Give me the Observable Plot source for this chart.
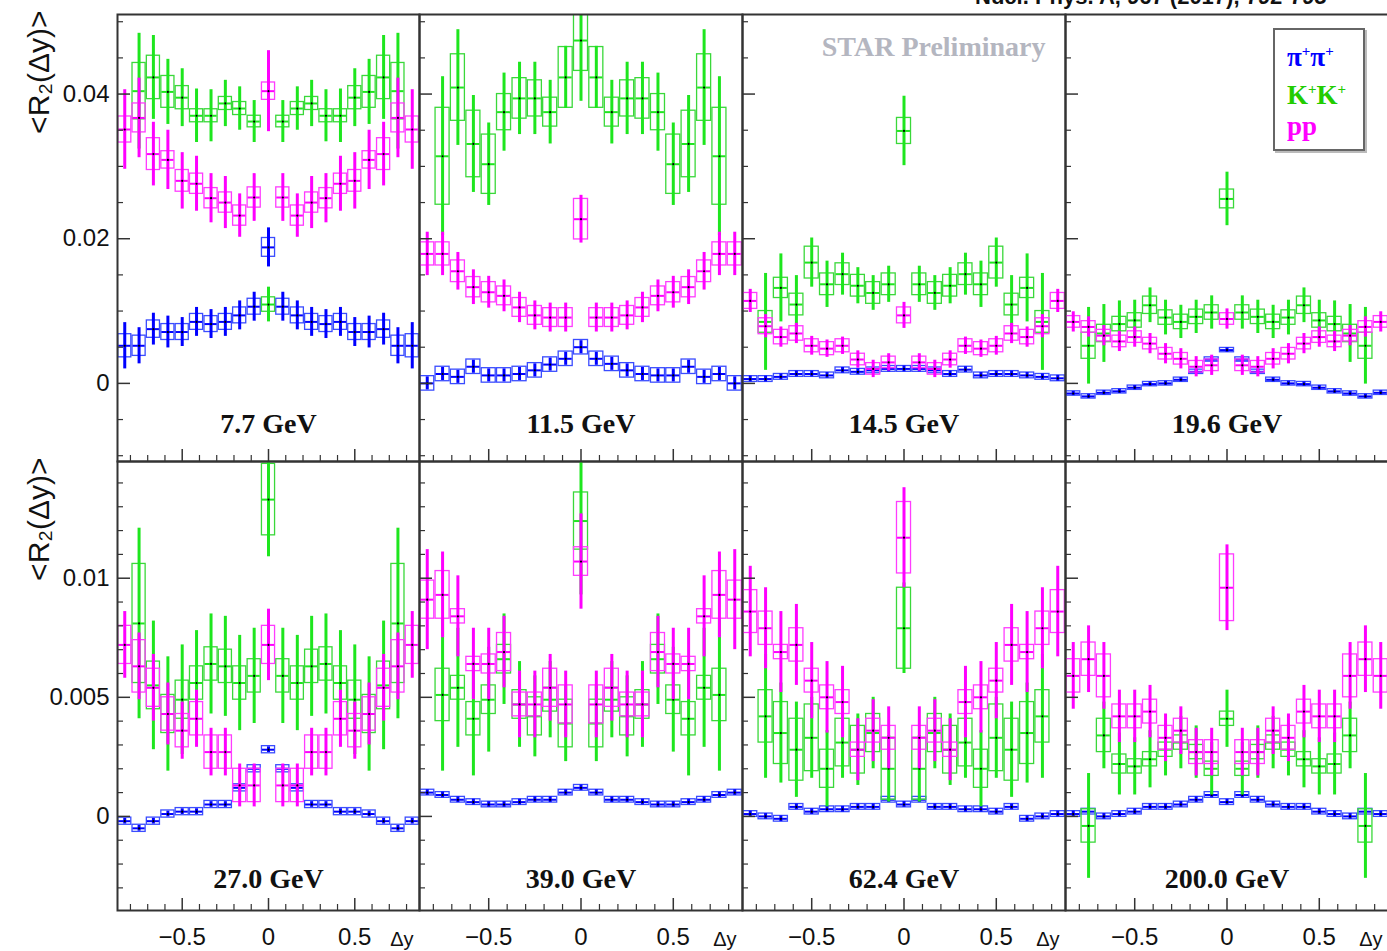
<!DOCTYPE html>
<html><head><meta charset="utf-8">
<script src="https://cdn.jsdelivr.net/npm/d3@7"></script>
<script src="https://cdn.jsdelivr.net/npm/@observablehq/plot@0.6"></script>
<style>
body{margin:0;background:#fff;overflow:hidden}
#wrap{position:relative;width:1387px;height:951px;overflow:hidden;background:#fff}
#wrap svg{position:absolute}
#cite{position:absolute;left:975px;top:-14px;font:bold 22px "Liberation Sans",Arial,sans-serif;line-height:22px;white-space:nowrap;color:#111}
#legend{position:absolute;left:1273px;top:28px;width:88px;height:119px;border:2px solid #666;background:#fff;box-shadow:2px 2px 0 #bbb;font:bold 27px "Liberation Serif","Times New Roman",serif}
#legend div{position:absolute;left:12px;line-height:27px;white-space:nowrap}
#legend sup{font-size:15px;vertical-align:10px}
</style></head><body><div id="wrap">
<div id="cite">Nucl. Phys. A, 967 (2017), 792-795</div>
</div>
<script>
// Δy bin centres (21 bins over [-0.875, 0.875])
const dY = [-0.833,-0.75,-0.667,-0.583,-0.5,-0.417,-0.333,-0.25,-0.167,-0.083,0,0.083,0.167,0.25,0.333,0.417,0.5,0.583,0.667,0.75,0.833];

// ---- 7.7 GeV ----
const pi77  = [0.0052,0.0052,0.0075,0.0071,0.0071,0.0085,0.0082,0.0085,0.0094,0.0106,0.0188,0.0106,0.0094,0.0085,0.0082,0.0085,0.0071,0.0071,0.0075,0.0052,0.0052];
const pi77s = [0.0032,0.0025,0.0022,0.0022,0.0020,0.0020,0.0020,0.0020,0.0020,0.0020,0.0027,0.0020,0.0020,0.0020,0.0020,0.0020,0.0020,0.0022,0.0022,0.0025,0.0032];
const pi77e = [0.0016,0.0014,0.0012,0.0011,0.0011,0.0011,0.0011,0.0011,0.0011,0.0011,0.0013,0.0011,0.0011,0.0011,0.0011,0.0011,0.0011,0.0011,0.0012,0.0014,0.0016];
const k77   = [null,0.0404,0.0423,0.0403,0.0395,0.0370,0.0370,0.0387,0.0380,0.0362,0.0109,0.0362,0.0380,0.0387,0.0370,0.0370,0.0395,0.0403,0.0423,0.0404,null];
const k77s  = [null,0.0080,0.0058,0.0045,0.0040,0.0037,0.0036,0.0032,0.0030,0.0029,0.0024,0.0029,0.0030,0.0032,0.0036,0.0037,0.0040,0.0045,0.0058,0.0080,null];
const k77e  = [null,0.0039,0.0030,0.0022,0.0016,0.0009,0.0009,0.0009,0.0009,0.0008,0.0010,0.0008,0.0009,0.0009,0.0009,0.0009,0.0016,0.0022,0.0030,0.0039,null];
const p77   = [0.0351,0.0367,0.0317,0.0309,0.0280,0.0276,0.0256,0.0250,0.0232,0.0257,0.0404,0.0257,0.0232,0.0250,0.0256,0.0276,0.0280,0.0309,0.0317,0.0367,0.0351];
const p77s  = [0.0055,0.0055,0.0044,0.0041,0.0039,0.0038,0.0034,0.0036,0.0030,0.0033,0.0056,0.0033,0.0030,0.0036,0.0034,0.0038,0.0039,0.0041,0.0044,0.0055,0.0055];
const p77e  = [0.0018,0.0020,0.0022,0.0012,0.0015,0.0014,0.0014,0.0014,0.0014,0.0014,0.0012,0.0014,0.0014,0.0014,0.0014,0.0014,0.0015,0.0012,0.0022,0.0020,0.0018];

// ---- 11.5 GeV ----
const pi115  = [0.0000,0.0013,0.0009,0.0023,0.0011,0.0011,0.0013,0.0018,0.0026,0.0034,0.0050,0.0034,0.0027,0.0018,0.0013,0.0011,0.0011,0.0023,0.0009,0.0013,0.0000];
const pi115s = 0.0009, pi115e = 0.0010;
const k115   = [null,0.0314,0.0409,0.0331,0.0303,0.0375,0.0394,0.0394,0.0375,0.0423,0.0474,0.0423,0.0375,0.0394,0.0394,0.0375,0.0303,0.0331,0.0409,0.0314,null];
const k115s  = [null,0.0110,0.0080,0.0067,0.0057,0.0054,0.0050,0.0050,0.0044,0.0043,0.0084,0.0043,0.0044,0.0050,0.0050,0.0054,0.0057,0.0067,0.0080,0.0110,null];
const k115e  = [null,0.0067,0.0046,0.0046,0.0041,0.0025,0.0028,0.0025,0.0020,0.0042,0.0042,0.0042,0.0020,0.0025,0.0028,0.0025,0.0041,0.0046,0.0046,0.0067,null];
const p115   = [0.0179,0.0179,0.0155,0.0133,0.0126,0.0121,0.0105,0.0094,0.0091,0.0091,0.0227,0.0091,0.0091,0.0094,0.0105,0.0121,0.0126,0.0133,0.0155,0.0179,0.0179];
const p115s  = [0.0030,0.0030,0.0026,0.0024,0.0022,0.0022,0.0021,0.0020,0.0020,0.0020,0.0033,0.0020,0.0020,0.0020,0.0021,0.0022,0.0022,0.0024,0.0026,0.0030,0.0030];
const p115e  = [0.0016,0.0016,0.0015,0.0014,0.0014,0.0013,0.0013,0.0013,0.0013,0.0013,0.0028,0.0013,0.0013,0.0013,0.0013,0.0013,0.0014,0.0014,0.0015,0.0016,0.0016];

// ---- 14.5 GeV ----
const pi145  = [0.0006,0.0006,0.0009,0.0013,0.0013,0.0011,0.0018,0.0016,0.0018,0.0020,0.0020,0.0020,0.0018,0.0013,0.0019,0.0011,0.0013,0.0013,0.0011,0.0009,0.0007];
const pi145s = 0.0004, pi145e = 0.0004;
const k145   = [null,0.0085,0.0132,0.0109,0.0167,0.0137,0.0151,0.0135,0.0125,0.0137,0.0349,0.0137,0.0125,0.0135,0.0151,0.0137,0.0167,0.0109,0.0132,0.0085,null];
const k145s  = [null,0.0067,0.0047,0.0040,0.0034,0.0032,0.0029,0.0025,0.0024,0.0025,0.0048,0.0025,0.0024,0.0025,0.0029,0.0032,0.0034,0.0040,0.0047,0.0067,null];
const k145e  = [null,0.0015,0.0014,0.0015,0.0022,0.0015,0.0015,0.0015,0.0015,0.0015,0.0018,0.0015,0.0015,0.0015,0.0015,0.0015,0.0022,0.0015,0.0014,0.0015,null];
const p145   = [0.0114,0.0079,0.0064,0.0069,0.0052,0.0048,0.0052,0.0033,0.0020,0.0029,0.0094,0.0029,0.0020,0.0033,0.0052,0.0048,0.0052,0.0069,0.0064,0.0079,0.0114];
const p145s  = [0.0016,0.0016,0.0014,0.0014,0.0013,0.0012,0.0012,0.0012,0.0012,0.0012,0.0018,0.0012,0.0012,0.0012,0.0012,0.0012,0.0013,0.0014,0.0014,0.0016,0.0016];
const p145e  = [0.0011,0.0011,0.0010,0.0010,0.0009,0.0009,0.0009,0.0008,0.0008,0.0008,0.0011,0.0008,0.0008,0.0008,0.0009,0.0009,0.0009,0.0010,0.0010,0.0011,0.0011];

// ---- 19.6 GeV ----
const pi196  = [-0.0014,-0.0018,-0.0013,-0.0011,-0.0006,-0.0001,0.0000,0.0005,0.0016,0.0033,0.0046,0.0033,0.0016,0.0005,0.0000,-0.0001,-0.0006,-0.0011,-0.0014,-0.0018,-0.0013];
const pi196s = 0.0003, pi196e = 0.0003;
const k196   = [null,0.0052,0.0069,0.0082,0.0087,0.0108,0.0091,0.0085,0.0092,0.0098,0.0255,0.0098,0.0092,0.0085,0.0091,0.0108,0.0087,0.0082,0.0069,0.0052,null];
const k196s  = [null,0.0053,0.0040,0.0032,0.0028,0.0024,0.0024,0.0023,0.0023,0.0023,0.0037,0.0023,0.0023,0.0023,0.0024,0.0024,0.0028,0.0032,0.0040,0.0053,null];
const k196e  = [null,0.0018,0.0012,0.0010,0.0010,0.0012,0.0010,0.0010,0.0010,0.0010,0.0013,0.0010,0.0010,0.0010,0.0010,0.0012,0.0010,0.0010,0.0012,0.0018,null];
const p196   = [0.0085,0.0078,0.0066,0.0058,0.0064,0.0055,0.0041,0.0034,0.0023,0.0025,0.0089,0.0025,0.0023,0.0034,0.0041,0.0055,0.0064,0.0058,0.0066,0.0078,0.0085];
const p196s  = 0.0014, p196e = 0.0008;

// ---- 27.0 GeV ----
const pi27  = [-0.0002,-0.0005,-0.0002,0.0001,0.0002,0.0002,0.0005,0.0005,0.0012,0.0020,0.0028,0.0020,0.0012,0.0005,0.0005,0.0002,0.0002,0.0001,-0.0002,-0.0005,-0.0002];
const pi27s = 0.00012, pi27e = 0.00015;
const k27   = [null,0.0081,0.0055,0.0043,0.0049,0.0056,0.0064,0.0063,0.0056,0.0059,0.0133,0.0059,0.0056,0.0063,0.0064,0.0056,0.0049,0.0043,0.0055,0.0081,null];
const k27s  = [null,0.0040,0.0027,0.0024,0.0023,0.0022,0.0021,0.0021,0.0020,0.0020,0.0024,0.0020,0.0020,0.0021,0.0021,0.0022,0.0023,0.0024,0.0027,0.0040,null];
const k27e  = [null,0.0025,0.0010,0.0008,0.0008,0.0007,0.0007,0.0007,0.0007,0.0007,0.0015,0.0007,0.0007,0.0007,0.0007,0.0007,0.0008,0.0008,0.0010,0.0025,null];
const p27   = [0.0072,0.0063,0.0054,0.0043,0.0036,0.0041,0.0027,0.0027,0.0013,0.0013,0.0072,0.0013,0.0013,0.0027,0.0027,0.0041,0.0036,0.0043,0.0054,0.0063,0.0072];
const p27s  = [0.0014,0.0014,0.0014,0.0013,0.0012,0.0012,0.0010,0.0010,0.0009,0.0009,0.0015,0.0009,0.0009,0.0010,0.0010,0.0012,0.0012,0.0013,0.0014,0.0014,0.0014];
const p27e  = [0.0008,0.0011,0.0008,0.0007,0.0007,0.0007,0.0007,0.0007,0.0007,0.0007,0.0008,0.0007,0.0007,0.0007,0.0007,0.0007,0.0007,0.0007,0.0008,0.0011,0.0008];

// ---- 39.0 GeV ----
const pi39  = [0.0010,0.0009,0.0007,0.0006,0.0005,0.0005,0.0006,0.0007,0.0007,0.0010,0.0012,0.0010,0.0007,0.0007,0.0006,0.0005,0.0005,0.0006,0.0007,0.0009,0.0010];
const pi39s = 0.00012, pi39e = 0.00012;
const k39   = [null,0.0051,0.0054,0.0041,0.0049,0.0066,0.0047,0.0042,0.0049,0.0039,0.0124,0.0039,0.0049,0.0042,0.0047,0.0066,0.0049,0.0041,0.0054,0.0051,null];
const k39s  = [null,0.0032,0.0025,0.0024,0.0022,0.0019,0.0018,0.0017,0.0016,0.0016,0.0031,0.0016,0.0016,0.0017,0.0018,0.0019,0.0022,0.0024,0.0025,0.0032,null];
const k39e  = [null,0.0011,0.0005,0.0007,0.0006,0.0006,0.0006,0.0008,0.0005,0.0010,0.0012,0.0010,0.0005,0.0008,0.0006,0.0006,0.0006,0.0007,0.0005,0.0011,null];
const p39   = [0.0091,0.0093,0.0084,0.0064,0.0064,0.0069,0.0047,0.0047,0.0054,0.0047,0.0107,0.0047,0.0054,0.0047,0.0047,0.0069,0.0064,0.0064,0.0084,0.0093,0.0091];
const p39s  = [0.0021,0.0018,0.0017,0.0015,0.0015,0.0015,0.0014,0.0014,0.0014,0.0014,0.0020,0.0014,0.0014,0.0014,0.0014,0.0015,0.0015,0.0015,0.0017,0.0018,0.0021];
const p39e  = [0.0008,0.0010,0.0003,0.0003,0.0004,0.0008,0.0005,0.0005,0.0008,0.0008,0.0006,0.0008,0.0008,0.0005,0.0005,0.0008,0.0004,0.0003,0.0003,0.0010,0.0008];

// ---- 62.4 GeV ----
const pi624  = [0.0001,0.0000,-0.0001,0.0004,0.0002,0.0003,0.0003,0.0004,0.0004,0.0007,0.0005,0.0007,0.0004,0.0004,0.0003,0.0003,0.0002,0.0004,-0.0001,0.0000,0.0001];
const pi624s = 0.00012, pi624e = 0.00012;
const k624   = [null,0.0042,0.0035,0.0028,0.0033,0.0020,0.0031,0.0028,0.0035,0.0020,0.0079,0.0020,0.0035,0.0028,0.0031,0.0020,0.0033,0.0028,0.0035,0.0042,null];
const k624s  = [null,0.0026,0.0021,0.0020,0.0017,0.0016,0.0015,0.0015,0.0015,0.0014,0.0019,0.0014,0.0015,0.0015,0.0015,0.0016,0.0017,0.0020,0.0021,0.0026,null];
const k624e  = [null,0.0011,0.0013,0.0013,0.0014,0.0008,0.0010,0.0010,0.0008,0.0013,0.0017,0.0013,0.0008,0.0010,0.0010,0.0008,0.0014,0.0013,0.0013,0.0011,null];
const p624   = [0.0086,0.0079,0.0069,0.0072,0.0057,0.0050,0.0048,0.0028,0.0036,0.0033,0.0117,0.0033,0.0036,0.0028,0.0048,0.0050,0.0057,0.0072,0.0069,0.0079,0.0086];
const p624s  = [0.0019,0.0017,0.0017,0.0017,0.0016,0.0015,0.0015,0.0013,0.0013,0.0013,0.0021,0.0013,0.0013,0.0013,0.0015,0.0015,0.0016,0.0017,0.0017,0.0017,0.0019];
const p624e  = [0.0009,0.0007,0.0003,0.0007,0.0005,0.0005,0.0005,0.0003,0.0005,0.0005,0.0015,0.0005,0.0005,0.0003,0.0005,0.0005,0.0005,0.0007,0.0003,0.0007,0.0009];

// ---- 200.0 GeV ----
const pi200  = [0.0001,0.0002,0.0000,0.0001,0.0002,0.0004,0.0004,0.0005,0.0007,0.0009,0.0006,0.0009,0.0007,0.0005,0.0004,0.0004,0.0002,0.0001,0.0000,0.0002,0.0001];
const pi200s = 0.00012, pi200e = 0.00012;
const k200   = [null,-0.0004,0.0034,0.0022,0.0021,0.0024,0.0028,0.0031,0.0027,0.0020,0.0041,0.0020,0.0027,0.0031,0.0028,0.0024,0.0021,0.0022,0.0034,-0.0004,null];
const k200s  = [null,0.0022,0.0014,0.0013,0.0012,0.0012,0.0011,0.0011,0.0011,0.0011,0.0012,0.0011,0.0011,0.0011,0.0011,0.0012,0.0012,0.0013,0.0014,0.0022,null];
const k200e  = [null,0.0007,0.0007,0.0004,0.0003,0.0003,0.0003,0.0003,0.0003,0.0003,0.0003,0.0003,0.0003,0.0003,0.0003,0.0003,0.0003,0.0004,0.0007,0.0007,null];
const p200   = [0.0059,0.0066,0.0059,0.0042,0.0042,0.0044,0.0033,0.0036,0.0027,0.0027,0.0096,0.0027,0.0027,0.0036,0.0033,0.0044,0.0042,0.0042,0.0059,0.0066,0.0059];
const p200s  = [0.0014,0.0014,0.0014,0.0011,0.0011,0.0011,0.0010,0.0010,0.0010,0.0010,0.0018,0.0010,0.0010,0.0010,0.0010,0.0011,0.0011,0.0011,0.0014,0.0014,0.0014];
const p200e  = [0.0007,0.0007,0.0009,0.0005,0.0005,0.0005,0.0005,0.0005,0.0005,0.0005,0.0014,0.0005,0.0005,0.0005,0.0005,0.0005,0.0005,0.0005,0.0009,0.0007,0.0007];

// tick values / labels
const xMajor = [-0.5, 0, 0.5];
const xMinor = [-0.8,-0.7,-0.6,-0.4,-0.3,-0.2,-0.1,0.1,0.2,0.3,0.4,0.6,0.7,0.8];
const yMajorTop = [0, 0.02, 0.04];
const yMinorTop = [-0.01,-0.005,0.005,0.01,0.015,0.025,0.03,0.035,0.045,0.05];
const yMajorBot = [0, 0.005, 0.01];
const yMinorBot = [-0.003,-0.002,-0.001,0.001,0.002,0.003,0.004,0.006,0.007,0.008,0.009,0.011,0.012,0.013,0.014];
const energies = ["7.7 GeV","11.5 GeV","14.5 GeV","19.6 GeV","27.0 GeV","39.0 GeV","62.4 GeV","200.0 GeV"];
const yTitle = "<R\u2082(\u0394y)>";

const colPi = "#0000ff", colPiBox = "#3a4cff";
const colK = "#1ee61e", colKBox = "#3ad83a";
const colP = "#ff00ff", colPBox = "#ff3cff";

function rows(vals, stat, sys) {
  return dY.map((x, i) => ({
    x, v: vals[i],
    s: typeof stat === "number" ? stat : stat[i],
    e: typeof sys === "number" ? sys : sys[i]
  })).filter(d => d.v != null);
}

const panels = [
  {row:0,col:0,label:energies[0],pi:rows(pi77,pi77s,pi77e),k:rows(k77,k77s,k77e),p:rows(p77,p77s,p77e)},
  {row:0,col:1,label:energies[1],pi:rows(pi115,pi115s,pi115e),k:rows(k115,k115s,k115e),p:rows(p115,p115s,p115e)},
  {row:0,col:2,label:energies[2],pi:rows(pi145,pi145s,pi145e),k:rows(k145,k145s,k145e),p:rows(p145,p145s,p145e)},
  {row:0,col:3,label:energies[3],pi:rows(pi196,pi196s,pi196e),k:rows(k196,k196s,k196e),p:rows(p196,p196s,p196e)},
  {row:1,col:0,label:energies[4],pi:rows(pi27,pi27s,pi27e),k:rows(k27,k27s,k27e),p:rows(p27,p27s,p27e)},
  {row:1,col:1,label:energies[5],pi:rows(pi39,pi39s,pi39e),k:rows(k39,k39s,k39e),p:rows(p39,p39s,p39e)},
  {row:1,col:2,label:energies[6],pi:rows(pi624,pi624s,pi624e),k:rows(k624,k624s,k624e),p:rows(p624,p624s,p624e)},
  {row:1,col:3,label:energies[7],pi:rows(pi200,pi200s,pi200e),k:rows(k200,k200s,k200e),p:rows(p200,p200s,p200e)}
];

const cols = [[117,419],[419,742],[742,1065],[1065,1388]];
const rowsPx = [[14,461],[461,910]];
const yDom = [[-0.0108,0.051],[-0.00395,0.0149]];

function seriesMarks(data, color, boxColor) {
  return [
    Plot.rect(data, {x1: d => d.x - 0.038, x2: d => d.x + 0.038, y1: d => d.v - d.e, y2: d => d.v + d.e,
      fill: "none", stroke: boxColor, strokeWidth: 1.3, clip: true}),
    Plot.ruleX(data, {x: "x", y1: d => d.v - d.s, y2: d => d.v + d.s, stroke: color, strokeWidth: 3, clip: true}),
    Plot.ruleY(data, {y: "v", x1: d => d.x - 0.035, x2: d => d.x + 0.035, stroke: color, strokeWidth: 2, clip: true}),
    Plot.dot(data, {x: "x", y: "v", r: 1.1, fill: "#000", stroke: null, clip: true})
  ];
}

const wrap = document.getElementById("wrap");
const fmt = d => d === 0 ? "0" : (d < 0 ? "\u2212" : "") + String(Math.abs(d));

for (const p of panels) {
  const [fl, fr] = cols[p.col];
  const [ft, fb] = rowsPx[p.row];
  const W = fr - fl, H = fb - ft;
  const mL = p.col === 0 ? 117 : 2, mR = 2, mT = 2, mB = p.row === 1 ? 41 : 2;
  const yMajor = p.row === 0 ? yMajorTop : yMajorBot;
  const yMinor = p.row === 0 ? yMinorTop : yMinorBot;
  const marks = [
    ...seriesMarks(p.pi, colPi, colPiBox),
    ...seriesMarks(p.k, colK, colKBox),
    ...seriesMarks(p.p, colP, colPBox),
    Plot.tickX(xMajor, {x: d => d, insetTop: H - 12, stroke: "#333", strokeWidth: 1.5}),
    Plot.tickX(xMinor, {x: d => d, insetTop: H - 6, stroke: "#333", strokeWidth: 1.2}),
    Plot.tickY(yMajor, {y: d => d, insetRight: W - 13, stroke: "#333", strokeWidth: 1.5}),
    Plot.tickY(yMinor, {y: d => d, insetRight: W - 6, stroke: "#333", strokeWidth: 1.2}),
    Plot.text([p.label], {text: d => d, x: () => 0, frameAnchor: "bottom", dy: p.row === 0 ? -29 : -23,
      fontFamily: "Liberation Serif", fontWeight: "bold", fontSize: 28, fill: "#111"}),
    Plot.frame({stroke: "#333", strokeWidth: 2})
  ];
  if (p.col === 0) {
    marks.push(Plot.text([yTitle], {text: d => d, frameAnchor: "top-left", dx: -90, dy: -4, rotate: -90,
      textAnchor: "end", fontSize: 30, fontFamily: "Liberation Sans", fill: "#111"}));
  }
  if (p.row === 1) {
    marks.push(Plot.text(["\u0394y"], {text: d => d, frameAnchor: "bottom-right", dx: -6, dy: 35,
      textAnchor: "end", fontSize: 20, fontFamily: "Liberation Sans", fill: "#111"}));
  }
  if (p.row === 0 && p.col === 2) {
    marks.push(Plot.text(["STAR Preliminary"], {text: d => d, frameAnchor: "top-right", dx: -20, dy: 22,
      textAnchor: "end", fontSize: 28, fontFamily: "Liberation Serif", fontWeight: "bold", fill: "#b4b6c0",
      letterSpacing: "1px"}));
  }
  const svg = Plot.plot({
    width: W + mL + mR, height: H + mT + mB,
    marginLeft: mL, marginRight: mR, marginTop: mT, marginBottom: mB,
    x: {domain: [-0.875, 0.875], axis: p.row === 1 ? "bottom" : null, ticks: xMajor, tickSize: 0,
        tickPadding: 17, tickFormat: fmt, label: null},
    y: {domain: yDom[p.row], axis: p.col === 0 ? "left" : null, ticks: yMajor, tickSize: 0,
        tickPadding: 8, tickFormat: fmt, label: null},
    style: {fontFamily: "Liberation Sans, Arial, sans-serif", fontSize: "24px", color: "#111",
            background: "transparent", overflow: "visible"},
    marks
  });
  svg.style.left = (fl - mL) + "px";
  svg.style.top = (ft - mT) + "px";
  wrap.appendChild(svg);
}

// legend (drawn over panel 4)
const legend = document.createElement("div");
legend.id = "legend";
legend.innerHTML =
  '<div style="top:8px;color:' + colPi + '">\u03c0<sup>+</sup>\u03c0<sup>+</sup></div>' +
  '<div style="top:46px;color:#22cc00">K<sup>+</sup>K<sup>+</sup></div>' +
  '<div style="top:83px;color:' + colP + '">pp</div>';
wrap.appendChild(legend);
</script></body></html>
